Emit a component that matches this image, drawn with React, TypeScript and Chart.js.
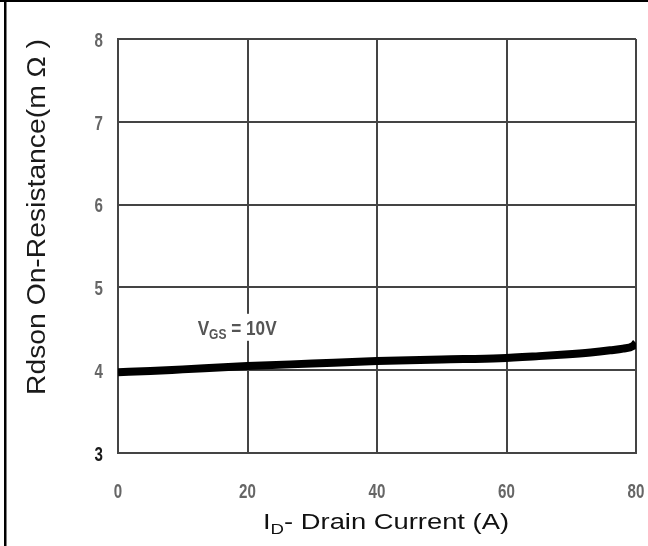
import React, { useEffect, useRef } from "react";
import { Chart, registerables } from "chart.js";

Chart.register(...registerables);

// Data
const drainCurrent = [0, 5, 10, 20, 30, 40, 50, 59, 65, 69, 73, 76, 78, 79.5, 80];
const rdsOn = [3.975, 3.99, 4.01, 4.05, 4.08, 4.11, 4.13, 4.145, 4.17, 4.19, 4.215, 4.24, 4.26, 4.29, 4.33];
const xTicks = [0, 20, 40, 60, 80];
const yTicks = [3, 4, 5, 6, 7, 8];
const yTitle = "Rdson On-Resistance(m \u03A9 )";
const xTitleMain = "I";
const xTitleSub = "D";
const xTitleRest = "- Drain Current (A)";
const curveLabel = { main: "V", sub: "GS", rest: " = 10V" };

const SANS = "'Liberation Sans', Arial, 'Noto Sans', sans-serif";

const decorPlugin = {
  id: "decor",
  afterDraw(chart: any) {
    const ctx = chart.ctx as CanvasRenderingContext2D;
    const xs = chart.scales.x;
    const ys = chart.scales.y;
    const area = chart.chartArea;
    ctx.save();

    // outer frame (top and left)
    ctx.fillStyle = "#000";
    ctx.fillRect(0, 0, chart.width, 2);
    ctx.fillRect(4, 0, 2.5, chart.height);

    // tick labels: bold condensed
    const tickFont = `bold 21px ${SANS}`;
    const squeeze = 0.72;
    ctx.font = tickFont;
    ctx.textBaseline = "middle";
    yTicks.forEach((v) => {
      const py = ys.getPixelForValue(v);
      const label = String(v);
      const w = ctx.measureText(label).width * squeeze;
      ctx.save();
      ctx.fillStyle = v === 3 ? "#1a1a1a" : "#666";
      ctx.translate(area.left - 15 - w, py + 2);
      ctx.scale(squeeze, 1);
      ctx.fillText(label, 0, 0);
      ctx.restore();
    });
    xTicks.forEach((v) => {
      const px = xs.getPixelForValue(v);
      const label = String(v);
      const w = ctx.measureText(label).width * squeeze;
      ctx.save();
      ctx.fillStyle = "#666";
      ctx.translate(px - w / 2, area.bottom + 39);
      ctx.scale(squeeze, 1);
      ctx.fillText(label, 0, 0);
      ctx.restore();
    });

    // Y title, rotated
    ctx.save();
    ctx.font = `26px ${SANS}`;
    ctx.fillStyle = "#1a1a1a";
    ctx.textBaseline = "alphabetic";
    ctx.textAlign = "left";
    const yw = ctx.measureText(yTitle).width;
    ctx.translate(45, 395);
    ctx.rotate(-Math.PI / 2);
    ctx.scale(356 / yw, 1);
    ctx.fillText(yTitle, 0, 0);
    ctx.restore();

    // X title with subscript
    ctx.save();
    ctx.fillStyle = "#111";
    ctx.textBaseline = "alphabetic";
    ctx.textAlign = "left";
    const mainFont = `22px ${SANS}`;
    const subFont = `15px ${SANS}`;
    ctx.font = mainFont;
    const w1 = ctx.measureText(xTitleMain).width;
    const w3 = ctx.measureText(xTitleRest).width;
    ctx.font = subFont;
    const w2 = ctx.measureText(xTitleSub).width;
    const s = 246 / (w1 + w2 + w3);
    ctx.translate(263, 529);
    ctx.scale(s, 1);
    ctx.font = mainFont;
    ctx.fillText(xTitleMain, 0, 0);
    ctx.font = subFont;
    ctx.fillText(xTitleSub, w1, 5);
    ctx.font = mainFont;
    ctx.fillText(xTitleRest, w1 + w2, 0);
    ctx.restore();

    // Curve label with white background
    const lx = xs.getPixelForValue(12.3);
    const ly = ys.getPixelForValue(4.5);
    ctx.fillStyle = "#fff";
    ctx.fillRect(lx - 4, ly - 15, 88, 27);
    ctx.save();
    ctx.fillStyle = "#555";
    ctx.textBaseline = "alphabetic";
    const lf = `bold 20px ${SANS}`;
    const lsf = `bold 14px ${SANS}`;
    ctx.font = lf;
    const a1 = ctx.measureText(curveLabel.main).width;
    const a3 = ctx.measureText(curveLabel.rest).width;
    ctx.font = lsf;
    const a2 = ctx.measureText(curveLabel.sub).width;
    const ls = 79 / (a1 + a2 + a3);
    ctx.translate(lx, ly + 6);
    ctx.scale(ls, 1);
    ctx.font = lf;
    ctx.fillText(curveLabel.main, 0, 0);
    ctx.font = lsf;
    ctx.fillText(curveLabel.sub, a1, 4);
    ctx.font = lf;
    ctx.fillText(curveLabel.rest, a1 + a2, 0);
    ctx.restore();

    ctx.restore();
  },
};

export default function App() {
  const ref = useRef<HTMLCanvasElement>(null);

  useEffect(() => {
    document.body.style.margin = "0";
    const canvas = ref.current!;
    const chart = new Chart(canvas, {
      type: "scatter",
      data: {
        datasets: [
          {
            data: drainCurrent.map((x, i) => ({ x, y: rdsOn[i] })),
            showLine: true,
            borderColor: "#000",
            borderWidth: 8,
            pointRadius: 0,
            cubicInterpolationMode: "monotone",
            borderCapStyle: "butt",
          } as any,
        ],
      },
      options: {
        responsive: false,
        animation: false,
        events: [],
        layout: { padding: { left: 0, right: 12, top: 39, bottom: 0 } },
        plugins: {
          legend: { display: false },
          tooltip: { enabled: false },
          title: { display: false },
        },
        scales: {
          x: {
            type: "linear",
            min: 0,
            max: 80,
            afterFit: (scale: any) => {
              scale.height = 93;
              scale.paddingLeft = 0;
              scale.paddingRight = 0;
            },
            afterBuildTicks: (scale: any) => {
              scale.ticks = xTicks.map((v) => ({ value: v }));
            },
            ticks: { display: false },
            grid: { color: "#444", lineWidth: 2, drawTicks: false },
            border: { display: true, color: "#444", width: 2 },
          },
          y: {
            type: "linear",
            min: 3,
            max: 8,
            afterFit: (scale: any) => {
              scale.width = 118;
              scale.paddingTop = 0;
              scale.paddingBottom = 0;
            },
            afterBuildTicks: (scale: any) => {
              scale.ticks = yTicks.map((v) => ({ value: v }));
            },
            ticks: { display: false },
            grid: { color: "#444", lineWidth: 2, drawTicks: false },
            border: { display: true, color: "#444", width: 2 },
          },
        },
      } as any,
      plugins: [decorPlugin],
    });
    return () => chart.destroy();
  }, []);

  return (
    <div style={{ position: "absolute", left: 0, top: 0, width: 648, height: 546, background: "#fff" }}>
      <canvas ref={ref} width={648} height={546} style={{ display: "block" }} />
    </div>
  );
}
